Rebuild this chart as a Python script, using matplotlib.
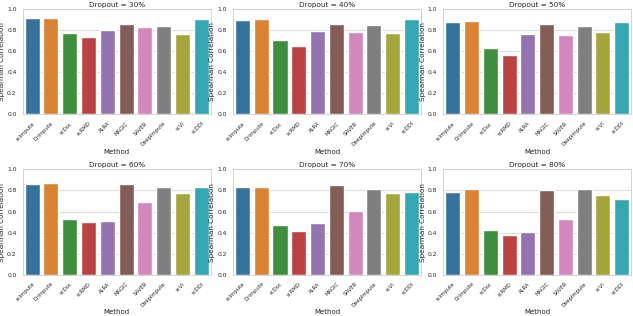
import matplotlib
matplotlib.use("Agg")
import matplotlib.pyplot as plt
import seaborn as sns
import pandas as pd

methods = ["scImpute", "DrImpute", "scDoc", "scRMD", "ALRA", "MAGIC",
           "SAVER", "DeepImpute", "scVI", "scDDI"]
dropouts = ["30%", "40%", "50%", "60%", "70%", "80%"]

corr_30 = [0.912, 0.918, 0.774, 0.736, 0.796, 0.855, 0.827, 0.836, 0.758, 0.906]
corr_40 = [0.896, 0.906, 0.708, 0.648, 0.786, 0.855, 0.777, 0.849, 0.767, 0.906]
corr_50 = [0.877, 0.889, 0.627, 0.566, 0.766, 0.854, 0.750, 0.839, 0.778, 0.877]
corr_60 = [0.860, 0.870, 0.527, 0.498, 0.508, 0.857, 0.689, 0.829, 0.778, 0.829]
corr_70 = [0.829, 0.835, 0.475, 0.418, 0.494, 0.848, 0.608, 0.816, 0.775, 0.788]
corr_80 = [0.790, 0.810, 0.430, 0.377, 0.405, 0.800, 0.528, 0.810, 0.756, 0.718]
all_corr = [corr_30, corr_40, corr_50, corr_60, corr_70, corr_80]

sns.set_style("whitegrid")
plt.rcParams['font.family'] = ['DejaVu Sans']

fig, axes = plt.subplots(2, 3, figsize=(6.33, 3.16), dpi=100)
fig.subplots_adjust(left=0.036, right=0.997, bottom=0.13, top=0.972,
                    wspace=0.12, hspace=0.52)

for ax, d, vals in zip(axes.flat, dropouts, all_corr):
    df = pd.DataFrame({"Method": methods, "Spearman Correlation": vals})
    sns.barplot(data=df, x="Method", y="Spearman Correlation", hue="Method",
                palette="tab10", saturation=0.7, ax=ax, legend=False)
    ax.set_ylim(0, 1.0)
    ax.set_yticks([0, 0.2, 0.4, 0.6, 0.8, 1.0])
    ax.set_title(f"Dropout = {d}", fontsize=5.2, pad=1.5)
    ax.set_xlabel("Method", fontsize=5.0, labelpad=1)
    ax.set_ylabel("Spearman Correlation", fontsize=5.2, labelpad=1.5)
    ax.tick_params(axis='y', labelsize=4.3, pad=1)
    ax.tick_params(axis='x', labelsize=3.8, pad=1)
    ax.set_xticks(range(len(methods)))
    ax.set_xticklabels(methods, rotation=45, ha='right', rotation_mode='anchor')
    ax.grid(axis='y', linewidth=0.5)
    for s in ax.spines.values():
        s.set_linewidth(0.6)

plt.savefig('out.png', dpi=100)
